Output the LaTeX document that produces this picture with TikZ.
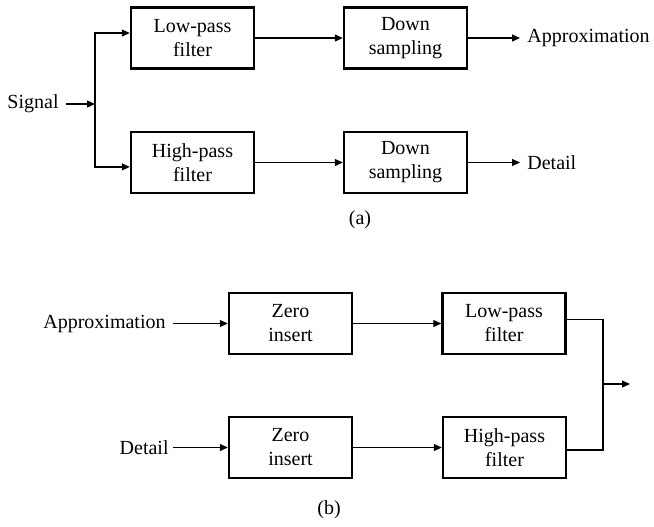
\documentclass[tikz,border=0pt]{standalone}
\usepackage{fontspec}
\setmainfont{Liberation Serif}
\usetikzlibrary{arrows.meta}
\tikzset{
  block/.style={draw, line width=1.2pt, minimum width=61.5pt, minimum height=30.5pt, inner sep=0pt, align=center},
  wire/.style={line width=0.6pt},
  feed/.style={wire, -{Triangle[length=4pt,width=3.5pt]}},
  lbl/.style={inner xsep=3.5pt, inner ysep=0pt},
}
\begin{document}
\begin{tikzpicture}[x=0.5pt, y=-0.5pt]
                    \useasboundingbox (0,0) rectangle (654,526);
                    
                    % Part (a): analysis blocks
                    \node [block] (lpa) at (192.5,38) {Low-pass\\filter};
                    \node [block] (dsa) at (405.5,38) {Down\\sampling};
                    \node [block] (hpa) at (192.5,162.5) {High-pass\\filter};
                    \node [block] (dsb) at (405.5,162.5) {Down\\sampling};
                    
                    % Part (a): input and outputs
                    \node [lbl, anchor=east] (sig) at (66,104) {Signal};
                    \coordinate (split) at (95,104);
                    \node [lbl, anchor=west] (apxa) at (520,38) {Approximation};
                    \node [lbl, anchor=west] (deta) at (520,162.5) {Detail};
                    
                    % Part (a): connectors
                    \draw [feed] (sig) -- (split);%
                    \draw [feed] (split) |- ([yshift=2.5pt]lpa.west);%
                    \draw [feed] (split) |- ([yshift=-2.2pt]hpa.west);%
                    \draw [feed] (lpa) -- (dsa);%
                    \draw [feed] (hpa) -- (dsb);%
                    \draw [feed] (dsa.east) -- (apxa.west);%
                    \draw [feed] (dsb.east) -- (deta.west);%
                    
                    \node (capa) at (360,220) {(a)};
                    
                    % Part (b): synthesis blocks
                    \node [block] (zia) at (290.5,323.5) {Zero\\insert};
                    \node [block] (lpb) at (504,323.5) {Low-pass\\filter};
                    \node [block] (zib) at (290.5,447.5) {Zero\\insert};
                    \node [block] (hpb) at (504.5,447.5) {High-pass\\filter};
                    
                    % Part (b): inputs and merge point
                    \node [lbl, anchor=east] (apxb) at (173,323.5) {Approximation};
                    \node [lbl, anchor=east, inner xsep=2pt] (detb) at (173,447.5) {Detail};
                    \coordinate (merge) at (603,384);
                    \coordinate (out) at (630,384);
                    
                    % Part (b): connectors
                    \draw [feed] (apxb.east) -- (zia.west);%
                    \draw [feed] (detb.east) -- (zib.west);%
                    \draw [feed] (zia) -- (lpb);%
                    \draw [feed] (zib) -- (hpb);%
                    \draw [wire] ([yshift=2pt]lpb.east) -| (merge) |- ([yshift=-1.2pt]hpb.east);%
                    \draw [feed] (merge) -- (out);%
                    
                    \node (capb) at (329,510) {(b)};
\end{tikzpicture}
\end{document}
